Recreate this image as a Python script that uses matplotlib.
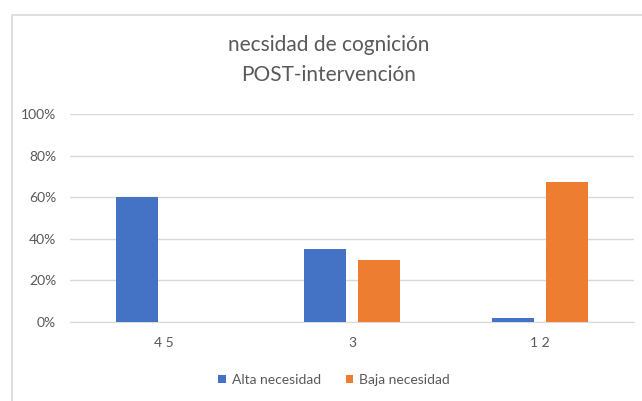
import numpy as np
import matplotlib
matplotlib.use('Agg')
import matplotlib.pyplot as plt
from matplotlib.lines import Line2D
from matplotlib.ticker import PercentFormatter

categories = ['4 5', '3', '1 2']
alta = [0.60, 0.35, 0.02]
baja = [0.0, 0.30, 0.675]
series_names = ['Alta necesidad', 'Baja necesidad']

blue = '#4472C4'
orange = '#ED7D31'
txt = '#595959'

plt.rcParams['font.family'] = ['Lato', 'DejaVu Sans']

W, H = 642, 401
fig = plt.figure(figsize=(W / 100, H / 100), dpi=100)
ax = fig.add_axes([70 / W, 1 - 322 / H, (634 - 70) / W, (322 - 114) / H])

x = np.arange(len(categories))
bw = 0.223
off = 0.144
ax.bar(x - off, alta, bw, color=blue, label=series_names[0], zorder=3)
ax.bar(x + off, baja, bw, color=orange, label=series_names[1], zorder=3)

ax.set_xlim(-0.5, 2.5)
ax.set_ylim(0, 1)
ax.set_yticks(np.arange(0, 1.01, 0.2))
ax.yaxis.set_major_formatter(PercentFormatter(1.0, decimals=0))
ax.set_xticks(x)
ax.set_xticklabels(categories)
ax.grid(axis='y', color='#D9D9D9', lw=1, zorder=0)
for s in ['top', 'right', 'left']:
    ax.spines[s].set_visible(False)
ax.spines['bottom'].set_color('#D9D9D9')
ax.tick_params(length=0, colors=txt, labelsize=10)
ax.tick_params(axis='x', pad=11)
ax.tick_params(axis='y', pad=10)

fig.text(329 / W, 1 - 45 / H, 'necsidad de cognición',
         ha='center', va='center', fontsize=15, color=txt)
fig.text(329 / W, 1 - 75 / H, 'POST-intervención',
         ha='center', va='center', fontsize=15, color=txt)

fig.legend(loc='center', bbox_to_anchor=(334 / W, 1 - 380 / H), ncol=2,
           frameon=False, fontsize=10, labelcolor=txt, handlelength=0.55,
           handleheight=0.55, handletextpad=0.4, columnspacing=1.8)

# chart frame
fig.add_artist(Line2D([12 / W, 12 / W, 1], [0, 1 - 15 / H, 1 - 15 / H],
                      transform=fig.transFigure, color='#D9D9D9', lw=1.2))

fig.savefig('out.png', dpi=100, facecolor='white')
